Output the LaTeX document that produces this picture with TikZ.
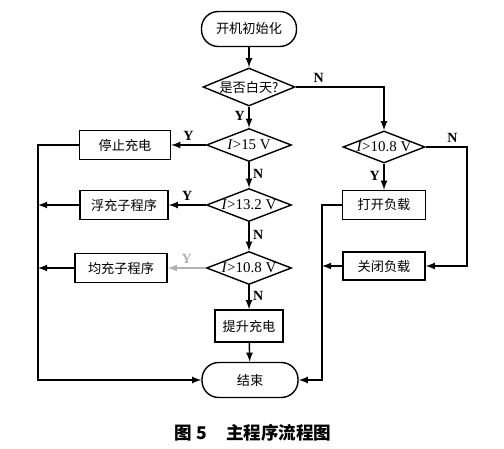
\documentclass[tikz,border=0pt]{standalone}
\usepackage{fontspec}
\setmainfont{Liberation Serif}
\newfontfamily\cjk{Noto Sans CJK SC}
\usetikzlibrary{shapes.geometric}

\begin{document}
\begin{tikzpicture}[x=0.02cm,y=-0.02cm,line width=0.8pt,
        term/.style={draw,rectangle,rounded corners=9.5pt,minimum width=1.9cm,minimum height=0.7cm,font=\cjk\fontsize{7.5}{9}\selectfont},
        proc/.style={draw,rectangle,minimum height=0.58cm,font=\cjk\fontsize{7.5}{9}\selectfont},
        cond/.style={draw,diamond,aspect=2.5,inner sep=0pt,minimum width=1.7cm,minimum height=0.66cm,font=\fontsize{8.5}{10}\selectfont},
        arr/.style={-latex},
        yn/.style={font=\bfseries\fontsize{8}{9}\selectfont,inner sep=2pt}]
        \useasboundingbox(0,0)rectangle(504,449);

        \node[term](start)at(249,29){开机初始化};
        \node[cond,minimum width=1.84cm,minimum height=0.76cm,font=\cjk\fontsize{7.5}{9}\selectfont](day)at(249,87){是否白天?};
        \node[cond](vA)at(249,145){\textit{I}>15 V};
        \node[cond](vB)at(249,205){\textit{I}>13.2 V};
        \node[cond](vC)at(249,268){\textit{I}>10.8 V};
        \node[proc,minimum width=1.82cm](stop)at(125,145){停止充电};
        \node[proc,minimum width=1.76cm](flt)at(124,205){浮充子程序};
        \node[proc,minimum width=1.84cm](eq)at(121,268){均充子程序};
        \node[proc,minimum width=1.36cm,minimum height=0.64cm](boost)at(249,326){提升充电};
        \node[term,minimum width=1.92cm](fin)at(250,380){结束};
        \node[cond,minimum width=1.64cm,minimum height=0.6cm](vR)at(384,147){\textit{I}>10.8 V};
        \node[proc,minimum width=1.66cm](on)at(384,205){打开负载};
        \node[proc,minimum width=1.64cm,minimum height=0.56cm](off)at(384,266){关闭负载};
        \node[font=\cjk\bfseries\fontsize{10}{12}\selectfont](cap)at(253,433){图 5\hspace{1.1em}主程序流程图};

        \coordinate(lx)at(38,0);
        \coordinate(mx)at(322,0);
        \coordinate(rx)at(467,0);

        \draw[arr](start)--(day);
        \draw[arr](day)--node[yn,left,pos=0.45]{Y}(vA);
        \draw[arr](day.east)-|node[yn,above,pos=0.13]{N}(vR.north);
        \draw[arr](vA.west)--node[yn,above]{Y}(stop.east);
        \draw[arr](vA)--node[yn,right,pos=0.45]{N}(vB);
        \draw[arr](vB.west)--node[yn,above]{Y}(flt.east);
        \draw[arr](vB)--node[yn,right,pos=0.45]{N}(vC);
        \draw[arr,gray!60](vC.west)--node[yn,above]{Y}(eq.east);
        \draw[arr](vC)--node[yn,right,pos=0.45]{N}(boost);
        \draw[arr](boost)--(fin);
        \draw[arr](stop.west)-|(lx|-fin.west)--(fin.west);
        \draw[arr](flt.west)--(lx|-flt.west);
        \draw[arr](eq.west)--(lx|-eq.west);
        \draw[arr](vR)--node[yn,left,pos=0.45]{Y}(on);
        \draw[arr](vR.east)--node[yn,above,pos=0.65]{N}(vR.east-|rx)|-(off.east);
        \draw[arr](on.west)-|(mx|-fin.east)--(fin.east);
        \draw[arr](off.west)--(mx|-off.west);
    \end{tikzpicture}
\end{document}
